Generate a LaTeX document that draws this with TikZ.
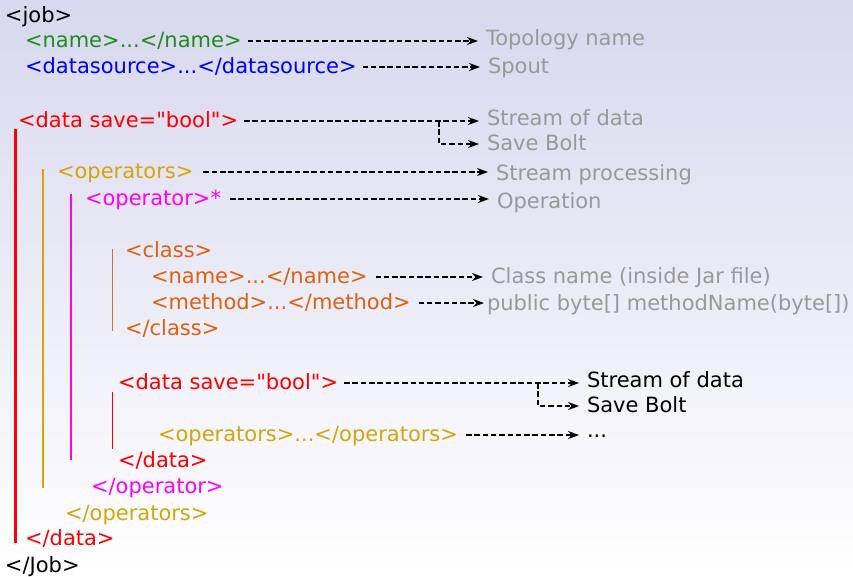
\documentclass[tikz,border=0pt]{standalone}
\usepackage{fontspec}
\setmainfont[Ligatures=TeXOff]{DejaVu Sans}
\usetikzlibrary{arrows.meta}

\definecolor{bgtop}{RGB}{216,216,238}
\definecolor{tgreen}{RGB}{30,140,30}
\definecolor{tblue}{RGB}{0,0,255}
\definecolor{tred}{RGB}{255,0,0}
\definecolor{tgold}{RGB}{212,166,10}
\definecolor{tmag}{RGB}{255,0,255}
\definecolor{torange}{RGB}{222,96,16}
\definecolor{tbrown}{RGB}{200,112,64}
\definecolor{tgray}{RGB}{153,153,153}

\tikzset{
  txt/.style={anchor=base west, inner sep=0pt, outer sep=0pt,
              text height=15pt, text depth=3pt,
              font=\fontsize{21}{25}\selectfont},
  tag/.style={txt, text=#1},
  note/.style={txt, text=tgray},
  plain/.style={txt, text=black},
  link/.style={draw=black, line width=1.5pt, dash pattern=on 5.5pt off 2.8pt,
               -{Stealth[length=11pt,width=8pt]},
               shorten <=6pt, shorten >=8pt},
  branch/.style={link, shorten <=0pt},
  bar/.style={line width=#1}
}

\begin{document}
\begin{tikzpicture}[x=1pt,y=-1pt]
  % background
  \shade[top color=bgtop, bottom color=white] (0,0) rectangle (853,576);
  \useasboundingbox (0,0) rectangle (853,576);

  % nesting bars
  \draw[bar=3pt, tred]   (15,129) -- (15,543);
  \draw[bar=2pt, tgold]  (43,169) -- (43,488);
  \draw[bar=2pt, tmag]   (71,194) -- (71,460);
  \draw[bar=1pt, tbrown] (112,249) -- (112,331);
  \draw[bar=1pt, tred]   (112,392) -- (112,449);

  % XML structure
  \node[tag=black]   (job)  at (5,22)   {<job>};
  \node[tag=tgreen]  (name) at (25,47)  {<name>...</name>};
  \node[tag=tblue]   (ds)   at (25,73)  {<datasource>...</datasource>};
  \node[tag=tred]    (d1)   at (18,127) {<data save="bool">};
  \node[tag=tgold]   (ops)  at (57,178) {<operators>};
  \node[tag=tmag]    (op)   at (85,205) {<operator>*};
  \node[tag=torange] (cls)  at (125,257) {<class>};
  \node[tag=torange] (cn)   at (151,283) {<name>...</name>};
  \node[tag=torange] (cm)   at (151,309) {<method>...</method>};
  \node[tag=torange] (ecls) at (125,335) {</class>};
  \node[tag=tred]    (d2)   at (118,389) {<data save="bool">};
  \node[tag=tgold]   (ops2) at (158,441) {<operators>...</operators>};
  \node[tag=tred]    (ed2)  at (118,467) {</data>};
  \node[tag=tmag]    (eop)  at (91,493)  {</operator>};
  \node[tag=tgold]   (eops) at (65,520)  {</operators>};
  \node[tag=tred]    (ed1)  at (25,545)  {</data>};
  \node[tag=black]   (ejob) at (5,572)   {</Job>};

  % descriptions
  \node[note]  (topo)  at (486,45)  {Topology name};
  \node[note]  (spout) at (488,73)  {Spout};
  \node[note]  (sod1)  at (487,125) {Stream of data};
  \node[note]  (sav1)  at (487,150) {Save Bolt};
  \node[note]  (sproc) at (496,180) {Stream processing};
  \node[note]  (oper)  at (497,208) {Operation};
  \node[note]  (cname) at (491,283) {Class name (inside Jar file)};
  \node[note]  (meth)  at (487,310) {public byte[] methodName(byte[])};
  \node[plain] (sod2)  at (587,387) {Stream of data};
  \node[plain] (sav2)  at (587,412) {Save Bolt};
  \node[plain] (more)  at (587,437) {...};

  % branch points
  \coordinate (br1) at (439,0);
  \coordinate (br2) at (538,0);

  % connectors
  \draw[link] (name.east) -- (name.east -| topo.west);
  \draw[link] (ds.east)   -- (ds.east -| spout.west);
  \draw[link] (d1.east)   -- (d1.east -| sod1.west);
  \draw[branch] (d1.east -| br1) |- (sav1.west);
  \draw[link, shorten <=10pt] (ops.east) -- (ops.east -| sproc.west);
  \draw[link, shorten <=9pt]  (op.east)  -- (op.east -| oper.west);
  \draw[link, shorten <=8pt]  (cn.east)  -- (cn.east -| cname.west);
  \draw[link, shorten <=8pt, shorten >=3pt] (cm.east) -- (cm.east -| meth.west);
  \draw[link] (d2.east)   -- (d2.east -| sod2.west);
  \draw[branch] (d2.east -| br2) |- (sav2.west);
  \draw[link, shorten <=8pt] (ops2.east) -- (ops2.east -| more.west);
\end{tikzpicture}
\end{document}
